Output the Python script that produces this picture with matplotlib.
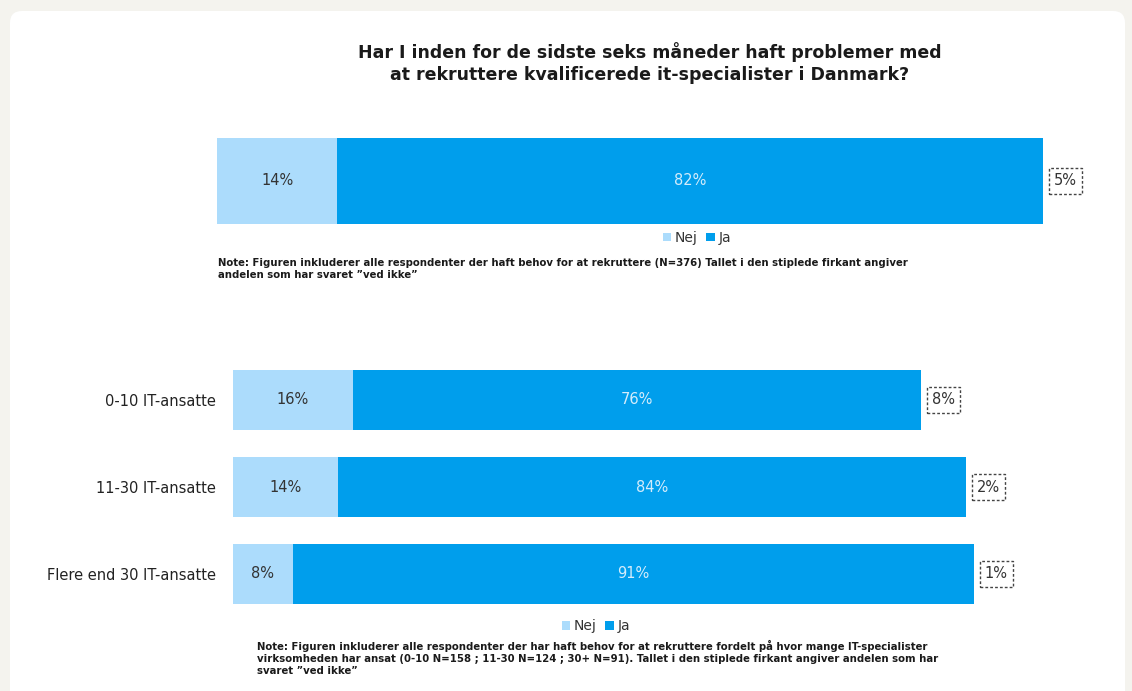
import matplotlib.pyplot as plt
from matplotlib.patches import FancyBboxPatch
from matplotlib.transforms import IdentityTransform

# data
title = "Har I inden for de sidste seks måneder haft problemer med\nat rekruttere kvalificerede it-specialister i Danmark?"
total_nej = [14]
total_ja = [82]
total_vedikke = [5]

groups = ["0-10 IT-ansatte", "11-30 IT-ansatte", "Flere end 30 IT-ansatte"]
group_nej = [16, 14, 8]
group_ja = [76, 84, 91]
group_vedikke = [8, 2, 1]

note_top = ("Note: Figuren inkluderer alle respondenter der haft behov for at rekruttere (N=376) Tallet i den stiplede firkant angiver\n"
            "andelen som har svaret \u201dved ikke\u201d")
note_bottom = ("Note: Figuren inkluderer alle respondenter der har haft behov for at rekruttere fordelt på hvor mange IT-specialister\n"
               "virksomheden har ansat (0-10 N=158 ; 11-30 N=124 ; 30+ N=91). Tallet i den stiplede firkant angiver andelen som har\n"
               "svaret \u201dved ikke\u201d")

LIGHT = '#acdcfc'
DARK = '#009eec'
W, H = 1132, 691

fig = plt.figure(figsize=(W / 100, H / 100), dpi=100)
fig.patch.set_facecolor('#f4f3ee')

card = FancyBboxPatch((10, -20), 1115, H - 11 + 20, boxstyle='round,pad=0,rounding_size=12',
                      transform=IdentityTransform(), facecolor='white', edgecolor='none', zorder=-5)
fig.patches.append(card)


def fax(left, top, right, bottom):
    return fig.add_axes([left / W, 1 - bottom / H, (right - left) / W, (bottom - top) / H])


def draw(ax, nej, ja, vedikke, height, box_off):
    y = list(range(len(nej)))
    b1 = ax.barh(y, nej, height=height, color=LIGHT, label='Nej')
    b2 = ax.barh(y, ja, left=nej, height=height, color=DARK, label='Ja')
    for i in y:
        ax.text(nej[i] / 2, i, f"{nej[i]}%", ha='center', va='center', fontsize=10.5, color='#333333')
        ax.text(nej[i] + ja[i] / 2, i, f"{ja[i]}%", ha='center', va='center', fontsize=10.5, color='#d4ecfb')
        ax.annotate(f"{vedikke[i]}%", xy=(nej[i] + ja[i], i), xytext=(box_off, 0),
                    textcoords='offset points', ha='left', va='center', fontsize=10.5, color='#333333',
                    bbox=dict(boxstyle='square,pad=0.35', facecolor='white', edgecolor='#444444',
                              linestyle=(0, (2, 1.5)), linewidth=1))
    ax.set_xlim(0, 100)
    ax.set_ylim(len(nej) - 0.5, -0.5)
    for s in ax.spines.values():
        s.set_visible(False)
    ax.set_facecolor('none')
    return b1, b2


# top chart
ax1 = fax(217, 138, 1077, 224)
draw(ax1, total_nej, total_ja, total_vedikke, 1.0, 8)
ax1.set_xticks([])
ax1.set_yticks([])
ax1.legend(loc='upper center', bbox_to_anchor=((697 - 217) / 860, 0.0), ncol=2, frameon=False,
           fontsize=10, handlelength=0.6, handleheight=0.6, handletextpad=0.3, columnspacing=0.6,
           labelcolor='#333333', borderpad=0)

fig.text(650 / W, 1 - 63 / H, title, ha='center', va='center', fontsize=12.5, fontweight='bold',
         color='#1a1a1a', linespacing=1.35)
fig.text(218 / W, 1 - 258 / H, note_top, ha='left', va='top', fontsize=7.3, fontweight='bold',
         color='#1a1a1a', linespacing=1.25)

# bottom chart
ax2 = fax(233, 356.5, 981, 617.5)
draw(ax2, group_nej, group_ja, group_vedikke, 0.68, 8)
ax2.set_xticks([])
ax2.set_yticks(range(len(groups)))
ax2.set_yticklabels(groups, fontsize=10.5, color='#222222')
ax2.tick_params(axis='y', length=0, pad=12)
ax2.legend(loc='upper center', bbox_to_anchor=((596 - 233) / 748, 0.02), ncol=2, frameon=False,
           fontsize=10, handlelength=0.6, handleheight=0.6, handletextpad=0.3, columnspacing=0.6,
           labelcolor='#333333', borderpad=0)

fig.text(257 / W, 1 - 640 / H, note_bottom, ha='left', va='top', fontsize=7.3, fontweight='bold',
         color='#1a1a1a', linespacing=1.25)

fig.savefig('out.png', dpi=100, facecolor=fig.get_facecolor())
